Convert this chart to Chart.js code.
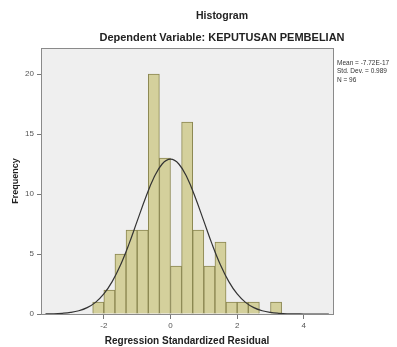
<!DOCTYPE html>
<html>
<head>
<meta charset="utf-8">
<script src="https://cdn.jsdelivr.net/npm/chart.js@4.4.1/dist/chart.umd.min.js"></script>
<style>
  html, body { margin: 0; padding: 0; background: #fff; }
  #wrap { width: 397px; height: 347px; }
</style>
</head>
<body>
<div id="wrap"><canvas id="hist" width="397" height="347"></canvas></div>
<script>
'use strict';

// ── Data ──────────────────────────────────────────────────────────
// bin centres (width 1/3) and counts
const binCenters = [-2.167, -1.833, -1.5, -1.167, -0.833, -0.5, -0.167, 0.167,
                    0.5, 0.833, 1.167, 1.5, 1.833, 2.167, 2.5, 2.833, 3.167];
const counts     = [1, 2, 5, 7, 7, 20, 13, 4, 16, 7, 4, 6, 1, 1, 1, 0, 1];

// normal curve
const curveX = [-3.75, -3.5, -3.25, -3, -2.75, -2.5, -2.25, -2, -1.75, -1.5, -1.25, -1,
                -0.75, -0.5, -0.25, 0, 0.25, 0.5, 0.75, 1, 1.25, 1.5, 1.75, 2,
                2.25, 2.5, 2.75, 3, 3.25, 3.5, 3.75, 4, 4.25, 4.5, 4.75];
const curveY = [0.01, 0.02, 0.06, 0.13, 0.27, 0.53, 0.97, 1.67, 2.7, 4.08, 5.8, 7.74,
                9.67, 11.35, 12.5, 12.9, 12.5, 11.35, 9.67, 7.74, 5.8, 4.08, 2.7, 1.67,
                0.97, 0.53, 0.27, 0.13, 0.06, 0.02, 0.01, 0, 0, 0, 0];

const statsText = ['Mean = -7.72E-17', 'Std. Dev. = 0.989', 'N = 96'];

const FONT = '"Liberation Sans", Arial, sans-serif';

// ── Plot frame, titles and stats box ──────────────────────────────
const framePlugin = {
  id: 'frame',
  beforeDraw(chart) {
    const { ctx, chartArea: a } = chart;
    ctx.save();
    ctx.fillStyle = '#efefef';
    ctx.fillRect(a.left, a.top, a.right - a.left, a.bottom - a.top);
    ctx.restore();
  },
  afterDraw(chart) {
    const { ctx, chartArea: a } = chart;
    ctx.save();
    ctx.strokeStyle = '#8a8a8a';
    ctx.lineWidth = 1;
    ctx.strokeRect(a.left + 0.5, a.top + 0.5, a.right - a.left, a.bottom - a.top);

    ctx.fillStyle = '#222';
    ctx.textAlign = 'center';
    ctx.textBaseline = 'middle';
    ctx.font = 'bold 10.5px ' + FONT;
    ctx.fillText('Histogram', 222, 16);
    ctx.font = 'bold 11px ' + FONT;
    ctx.fillText('Dependent Variable: KEPUTUSAN PEMBELIAN', 222, 38);

    ctx.font = '6.5px ' + FONT;
    ctx.textAlign = 'left';
    ctx.fillStyle = '#333';
    statsText.forEach((t, i) => ctx.fillText(t, 337, 63 + i * 8.5));
    ctx.restore();
  },
};

const tickFont = { family: FONT, size: 8 };

new Chart(document.getElementById('hist'), {
  data: {
    datasets: [
      {
        type: 'line',
        data: curveX.map((x, i) => ({ x, y: curveY[i] })),
        borderColor: '#333',
        borderWidth: 1.2,
        pointRadius: 0,
        tension: 0.4,
        fill: false,
        order: 0,
      },
      {
        type: 'bar',
        data: binCenters.map((x, i) => ({ x, y: counts[i] })),
        backgroundColor: '#d4d09c',
        borderColor: '#8a8650',
        borderWidth: 1,
        barPercentage: 1,
        categoryPercentage: 1,
        order: 1,
      },
    ],
  },
  options: {
    responsive: false,
    animation: false,
    layout: { padding: { top: 48, right: 64, left: 0, bottom: 0 } },
    plugins: {
      legend: { display: false },
      tooltip: { enabled: false },
    },
    scales: {
      x: {
        type: 'linear',
        min: -3.885,
        max: 4.875,
        offset: false,
        afterFit(scale) { scale.height = 33; },
        ticks: {
          stepSize: 2,
          includeBounds: false,
          color: '#555',
          font: tickFont,
          padding: 2,
          maxRotation: 0,
        },
        grid: { offset: false, drawOnChartArea: false, drawTicks: true, tickLength: 5, color: '#777' },
        border: { display: true, color: '#777' },
        title: {
          display: true,
          text: 'Regression Standardized Residual',
          color: '#222',
          font: { family: FONT, size: 10, weight: 'bold' },
          padding: { top: 4, bottom: 0 },
        },
      },
      y: {
        type: 'linear',
        min: 0,
        max: 22.17,
        afterFit(scale) { scale.width = 41; },
        ticks: {
          stepSize: 5,
          includeBounds: false,
          color: '#555',
          font: tickFont,
          padding: 3,
        },
        grid: { drawOnChartArea: false, drawTicks: true, tickLength: 4, color: '#777' },
        border: { display: true, color: '#777' },
        title: {
          display: true,
          text: 'Frequency',
          color: '#222',
          font: { family: FONT, size: 9, weight: 'bold' },
          padding: { top: 10, bottom: 4 },
        },
      },
    },
  },
  plugins: [framePlugin],
});
</script>
</body>
</html>
